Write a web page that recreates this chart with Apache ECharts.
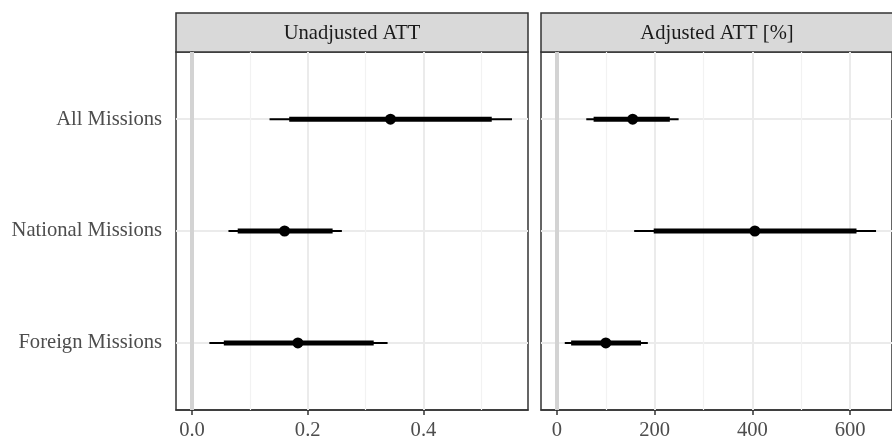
<!DOCTYPE html>
<html>
<head>
<meta charset="utf-8">
<script src="https://cdn.jsdelivr.net/npm/echarts@6/dist/echarts.min.js"></script>
<style>
html,body{margin:0;padding:0;background:#fff;}
#chart{width:892px;height:441px;}
</style>
</head>
<body>
<div id="chart"></div>
<script>
// ---- data ----
const categories = ['All Missions', 'National Missions', 'Foreign Missions'];
const panelTitles = ['Unadjusted ATT', 'Adjusted ATT [%]'];

const unadjLo95 = [0.134, 0.063, 0.030];
const unadjLo90 = [0.168, 0.079, 0.055];
const unadjEst  = [0.343, 0.160, 0.183];
const unadjHi90 = [0.518, 0.243, 0.314];
const unadjHi95 = [0.553, 0.259, 0.338];

const adjLo95 = [60, 158, 16];
const adjLo90 = [75, 198, 29];
const adjEst  = [155, 405, 100];
const adjHi90 = [231, 613, 172];
const adjHi95 = [249, 653, 186];

const xTicks1 = [0, 0.2, 0.4];
const xMinor1 = [0.1, 0.3, 0.5];
const xTicks2 = [0, 200, 400, 600];
const xMinor2 = [100, 300, 500, 700];
const refLine = 0;

// ---- helpers ----
const FONT = "'Liberation Serif', 'Times New Roman', 'DejaVu Serif', serif";
const FS = 20.6;
const yPos = categories.map((c, i) => categories.length - i); // top to bottom
const yTicks = yPos.slice().sort((a, b) => a - b);

function rows(lo95, lo90, est, hi90, hi95) {
  return categories.map((c, i) => [yPos[i], lo95[i], lo90[i], est[i], hi90[i], hi95[i]]);
}
function range(hi95) {
  const mx = Math.max(refLine, ...hi95);
  const mn = Math.min(refLine, 0);
  const span = mx - mn;
  return [mn - 0.05 * span, mx + 0.05 * span];
}
const r1 = range(unadjHi95);
const r2 = range(adjHi95);

const G = {top: 52, height: 358, width: 352};
const lefts = [176, 541];

function renderItem(params, api) {
  const y = api.value(0);
  const p95a = api.coord([api.value(1), y]);
  const p90a = api.coord([api.value(2), y]);
  const pe = api.coord([api.value(3), y]);
  const p90b = api.coord([api.value(4), y]);
  const p95b = api.coord([api.value(5), y]);
  return {
    type: 'group',
    children: [
      {type: 'line', shape: {x1: p95a[0], y1: p95a[1], x2: p95b[0], y2: p95b[1]},
       style: {stroke: '#000', lineWidth: 2}},
      {type: 'line', shape: {x1: p90a[0], y1: p90a[1], x2: p90b[0], y2: p90b[1]},
       style: {stroke: '#000', lineWidth: 5}},
      {type: 'circle', shape: {cx: pe[0], cy: pe[1], r: 5.5},
       style: {fill: '#000'}}
    ]
  };
}

function gridSeries(idx, major, minor) {
  const mk = (arr, axis, color, width) => arr.map(v => ({[axis]: v, lineStyle: {color: color, width: width, type: 'solid'}}));
  return {
    type: 'line', xAxisIndex: idx, yAxisIndex: idx, data: [], silent: true, z: 1,
    markLine: {
      silent: true, symbol: 'none', animation: false,
      label: {show: false},
      data: [].concat(
        mk(yTicks, 'yAxis', '#EBEBEB', 2),
        mk(minor, 'xAxis', '#F2F2F2', 1.2),
        mk(major, 'xAxis', '#EBEBEB', 2),
        mk([refLine], 'xAxis', '#D3D3D3', 4)
      )
    }
  };
}

function xAxis(idx, r, ticks, fmt) {
  return {
    type: 'value', gridIndex: idx, min: r[0], max: r[1],
    axisLine: {show: true, lineStyle: {color: '#333333', width: 1.5}},
    axisTick: {show: true, inside: false, customValues: ticks, length: 5, lineStyle: {color: '#333333', width: 1.5}},
    axisLabel: {show: true, customValues: ticks, formatter: fmt, margin: 10,
      fontFamily: FONT, fontSize: FS, color: '#4D4D4D'},
    splitLine: {show: false}
  };
}
function yAxis(idx, showLabels) {
  return {
    type: 'value', gridIndex: idx, min: 0.4, max: categories.length + 0.6,
    axisLine: {show: true, lineStyle: {color: '#333333', width: 1.5}},
    axisTick: {show: showLabels, inside: false, customValues: yTicks, length: 5, lineStyle: {color: '#333333', width: 1.5}},
    axisLabel: {show: showLabels, customValues: yTicks, margin: 14,
      formatter: v => { const i = yPos.indexOf(Math.round(v)); return i >= 0 ? categories[i] : ''; },
      fontFamily: FONT, fontSize: FS, color: '#4D4D4D', padding: [3, 0, 0, 0]},
    splitLine: {show: false}
  };
}

const chart = echarts.init(document.getElementById('chart'), null, {renderer: 'canvas'});
chart.setOption({
  animation: false,
  backgroundColor: '#fff',
  grid: lefts.map(l => ({left: l, top: G.top, width: G.width, height: G.height,
    show: true, backgroundColor: '#fff', borderColor: '#333333', borderWidth: 1.5, containLabel: false})),
  xAxis: [
    xAxis(0, r1, xTicks1, v => v.toFixed(1)),
    xAxis(1, r2, xTicks2, v => String(Math.round(v)))
  ],
  yAxis: [yAxis(0, true), yAxis(1, false)],
  graphic: lefts.map((l, i) => ({
    type: 'group', children: [
      {type: 'rect', shape: {x: l, y: 13, width: G.width, height: G.top - 13},
       style: {fill: '#D9D9D9', stroke: '#333333', lineWidth: 1.5}},
      {type: 'text', x: l + G.width / 2, y: 13 + (G.top - 13) / 2 + 1,
       style: {text: panelTitles[i], fontFamily: FONT, fontSize: FS, fill: '#1A1A1A',
         align: 'center', verticalAlign: 'middle'}}
    ]
  })),
  series: [
    gridSeries(0, xTicks1, xMinor1),
    gridSeries(1, xTicks2, xMinor2),
    {type: 'custom', xAxisIndex: 0, yAxisIndex: 0, z: 5, renderItem: renderItem,
     encode: {x: [1, 2, 3, 4, 5], y: 0}, data: rows(unadjLo95, unadjLo90, unadjEst, unadjHi90, unadjHi95)},
    {type: 'custom', xAxisIndex: 1, yAxisIndex: 1, z: 5, renderItem: renderItem,
     encode: {x: [1, 2, 3, 4, 5], y: 0}, data: rows(adjLo95, adjLo90, adjEst, adjHi90, adjHi95)}
  ]
});
</script>
</body>
</html>
